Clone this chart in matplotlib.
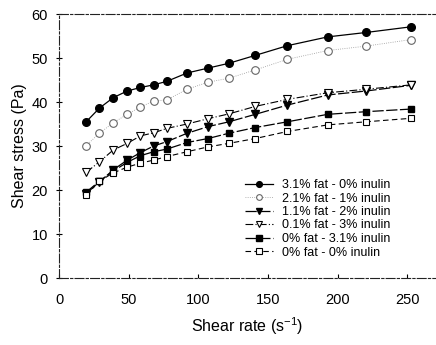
import matplotlib
matplotlib.use("Agg")
import numpy as np
from matplotlib import pyplot as plt

plt.rcParams['font.family'] = ['Liberation Sans', 'DejaVu Sans']
plt.rcParams['mathtext.default'] = 'regular'

# shear rate (s^-1), common to all samples
shear_rate = [19.5, 29, 39, 49, 58.5, 68, 77.5, 92, 107, 122, 141, 164, 193, 220.5, 253]

# shear stress (Pa) for each formulation
fat31_in0 = [35.5, 38.6, 41.0, 42.5, 43.3, 43.9, 44.7, 46.6, 47.7, 48.8, 50.6, 52.8, 54.8, 55.8, 57.1]
fat21_in1 = [30.1, 32.9, 35.3, 37.2, 38.9, 40.2, 40.5, 42.9, 44.5, 45.4, 47.3, 49.7, 51.7, 52.7, 54.2]
fat11_in2 = [19.2, 21.8, 24.6, 26.8, 28.5, 30.0, 31.0, 32.9, 34.4, 35.5, 37.2, 39.3, 41.6, 42.5, 43.8]
fat01_in3 = [24.0, 26.4, 29.1, 30.6, 32.3, 33.0, 34.0, 35.0, 36.2, 37.3, 39.0, 40.6, 42.1, 42.9, 43.9]
fat0_in31 = [19.5, 22.0, 24.3, 26.3, 27.8, 28.7, 29.3, 30.8, 31.7, 32.9, 34.2, 35.5, 37.2, 37.8, 38.4]
fat0_in0 = [18.8, 22.0, 23.9, 25.2, 26.1, 26.8, 27.6, 28.7, 29.8, 30.6, 31.7, 33.3, 34.8, 35.5, 36.3]

labels = ['3.1% fat - 0% inulin', '2.1% fat - 1% inulin', '1.1% fat - 2% inulin',
          '0.1% fat - 3% inulin', '0% fat - 3.1% inulin', '0% fat - 0% inulin']

fig = plt.figure(figsize=(4.36, 3.45), dpi=100)
ax = fig.add_axes([59/436, 1 - 278/345, 376/436, 264/345])

ax.plot(shear_rate, fat31_in0, '-', color='black', lw=0.9, marker='o', ms=5.5,
        mfc='black', mec='black', label=labels[0])
ax.plot(shear_rate, fat21_in1, ':', color='#999999', lw=0.6, marker='o', ms=5.5,
        mfc='white', mec='#666666', mew=0.8, label=labels[1])
ax.plot(shear_rate, fat11_in2, color='black', lw=0.9, ls=(0, (9, 2)), marker='v', ms=5.5,
        mfc='black', mec='black', label=labels[2])
ax.plot(shear_rate, fat01_in3, color='black', lw=0.8, ls=(0, (7, 2, 1, 2)), marker='v', ms=5.5,
        mfc='white', mec='black', mew=0.8, label=labels[3])
ax.plot(shear_rate, fat0_in31, color='black', lw=0.9, ls=(0, (9, 2)), marker='s', ms=5,
        mfc='black', mec='black', label=labels[4])
ax.plot(shear_rate, fat0_in0, color='black', lw=0.8, ls=(0, (5, 3)), marker='s', ms=5,
        mfc='white', mec='black', mew=0.8, label=labels[5])

ax.set_xlim(0, 270)
ax.set_ylim(0, 60)
ax.set_xticks([0, 50, 100, 150, 200, 250])
ax.set_yticks([0, 10, 20, 30, 40, 50, 60])

for side in ['top', 'bottom', 'left']:
    ax.spines[side].set_linestyle((0, (8, 2, 2, 2)))
    ax.spines[side].set_linewidth(0.8)
    ax.spines[side].set_color('#222222')
ax.spines['right'].set_visible(False)

ax.tick_params(axis='x', direction='in', length=3, width=0.8, pad=11, labelsize=10.5)
ax.tick_params(axis='y', direction='inout', length=4, width=0.8, pad=6, labelsize=10.5)

ax.set_xlabel('Shear rate (s$^{-1}$)', fontsize=11.5, labelpad=6)
ax.set_ylabel('Shear stress (Pa)', fontsize=11.5, labelpad=3)

fig.legend(loc='upper left', bbox_to_anchor=(245/436, 1 - 179/345), frameon=False,
           fontsize=9, handlelength=2.2, handletextpad=0.8, labelspacing=0.12,
           borderpad=0, borderaxespad=0, markerscale=0.75)

fig.savefig('out.png', dpi=100)
